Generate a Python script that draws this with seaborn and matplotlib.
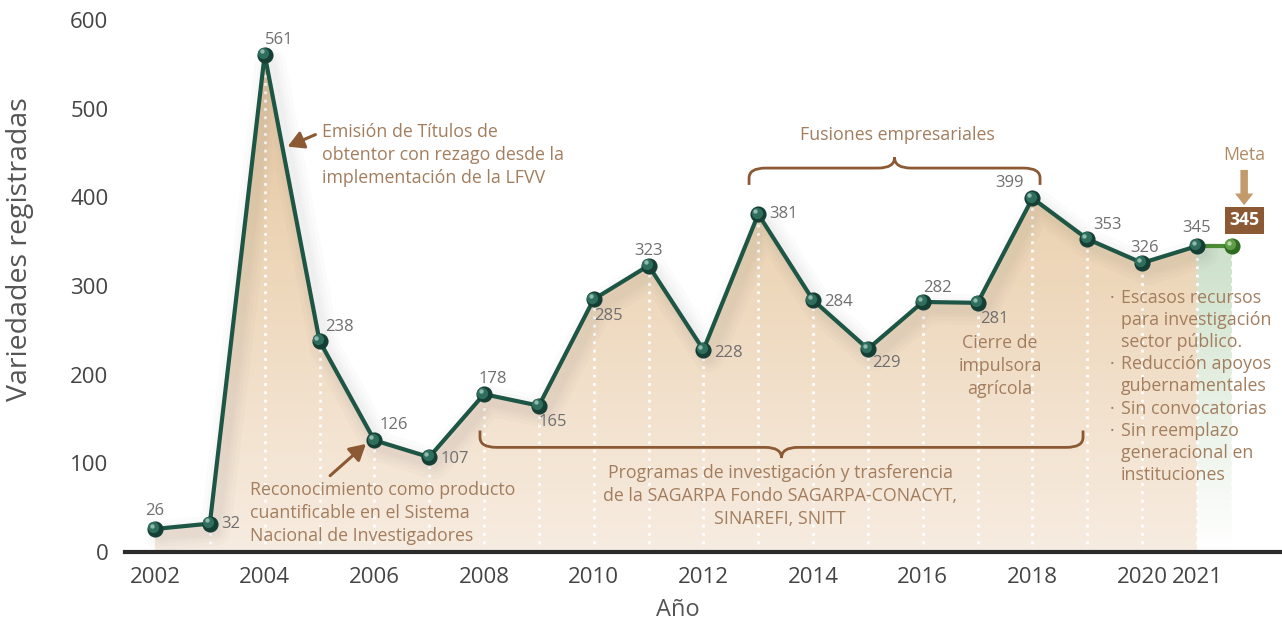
import numpy as np
import matplotlib
matplotlib.use("Agg")
import matplotlib.pyplot as plt
import matplotlib.transforms as mtransforms
from matplotlib.colors import LinearSegmentedColormap
from matplotlib.path import Path
from matplotlib.patches import PathPatch
import matplotlib.patheffects as pe
import seaborn as sns

# data
years = [2002, 2003, 2004, 2005, 2006, 2007, 2008, 2009, 2010, 2011,
         2012, 2013, 2014, 2015, 2016, 2017, 2018, 2019, 2020, 2021]
values = [26, 32, 561, 238, 126, 107, 178, 165, 285, 323,
          228, 381, 284, 229, 282, 281, 399, 353, 326, 345]
meta_year = 2021.64
meta_value = 345
xtick_years = [2002, 2004, 2006, 2008, 2010, 2012, 2014, 2016, 2018, 2020, 2021]
ytick_values = [0, 100, 200, 300, 400, 500, 600]

# label offsets in points (dx, dy, ha, va)
label_pos = [(0, 7, "center", "bottom"), (8, 0, "left", "center"), (0, 5, "left", "bottom"),
             (4, 4, "left", "bottom"), (4, 5, "left", "bottom"), (8, -1, "left", "center"),
             (-4, 5, "left", "bottom"), (0, -6, "left", "top"), (0, -6, "left", "top"),
             (0, 5, "center", "bottom"), (8, -2, "left", "center"), (8, 0, "left", "center"),
             (8, -1, "left", "center"), (3, -4, "left", "top"), (0, 4, "left", "bottom"),
             (2, -6, "left", "top"), (-6, 5, "right", "bottom"), (4, 4, "left", "bottom"),
             (2, 5, "center", "bottom"), (0, 7, "center", "bottom")]

sns.set_theme(style="white")
plt.rcParams['font.family'] = ['Open Sans', 'DejaVu Sans']

green = "#1e5646"
brown = "#8b5a35"
tan_txt = "#a27d5e"
grey_txt = "#6f6f6f"

fig = plt.figure(figsize=(12.82, 6.22), dpi=100)
ax = fig.add_axes([125 / 1282, 70 / 622, 1 - 125 / 1282, 532 / 622])
x_min, x_max = 2001.453, 2022.55

# gradient fill under the curve
grad = np.linspace(0, 1, 256).reshape(-1, 1)
cmap = LinearSegmentedColormap.from_list("tan", ["#f7ece1", "#eed8bc", "#e4c39b"])
im = ax.imshow(grad, extent=[x_min, x_max, 0, 600], origin="lower", aspect="auto",
               cmap=cmap, zorder=1)
poly = ax.fill_between(years, values, 0, color="none", lw=0)
im.set_clip_path(poly.get_paths()[0], transform=ax.transData)

# green goal area
gcmap = LinearSegmentedColormap.from_list("gr", ["#ffffff", "#e3eee0", "#c3dbc2", "#bcd7bc"])
im2 = ax.imshow(grad, extent=[x_min, x_max, 0, 600], origin="lower", aspect="auto",
                cmap=gcmap, zorder=1)
poly2 = ax.fill_between([years[-1], meta_year], [values[-1], meta_value], 0,
                        color="none", lw=0)
im2.set_clip_path(poly2.get_paths()[0], transform=ax.transData)

# dotted verticals
ax.vlines(years[1:] + [meta_year], 0, values[1:] + [meta_value], colors="white",
          linestyles=(0, (1, 2)), lw=2, zorder=2)

# main line with a soft shadow
shadow = [pe.SimpleLineShadow(offset=(4, -5), shadow_color="#555555", alpha=0.025,
                              linewidth=w) for w in (22, 16, 11, 7)]
sns.lineplot(x=years, y=values, color=green, lw=3, ax=ax, zorder=4,
             path_effects=shadow + [pe.Normal()])
sns.lineplot(x=[years[-1], meta_year], y=[values[-1], meta_value], color="#4a8c35",
             lw=3, ax=ax, zorder=3)

# sphere markers
hl1 = mtransforms.offset_copy(ax.transData, fig=fig, x=-1.2, y=1.2, units="points")
hl2 = mtransforms.offset_copy(ax.transData, fig=fig, x=-2.2, y=2.4, units="points")
ax.scatter(years, values, s=135, color="#153f34", zorder=5, lw=0)
ax.scatter(years, values, s=65, color="#2f6e5c", zorder=6, lw=0, transform=hl1)
ax.scatter(years, values, s=10, color="#8fb9ab", zorder=7, lw=0, transform=hl2)
ax.scatter([meta_year], [meta_value], s=135, color="#2f6b22", zorder=5, lw=0)
ax.scatter([meta_year], [meta_value], s=65, color="#5f9c47", zorder=6, lw=0, transform=hl1)
ax.scatter([meta_year], [meta_value], s=10, color="#b3d6a3", zorder=7, lw=0, transform=hl2)

# value labels
for x, v, (dx, dy, ha, va) in zip(years, values, label_pos):
    ax.annotate(str(v), (x, v), xytext=(dx, dy), textcoords="offset points",
                ha=ha, va=va, fontsize=12, color=grey_txt, zorder=8)

# axes styling
ax.set_xlim(x_min, x_max)
ax.set_ylim(0, 600)
ax.set_xticks(xtick_years)
ax.set_yticks(ytick_values)
ax.tick_params(axis="both", length=0, labelsize=16, labelcolor="#444444")
ax.tick_params(axis="y", pad=12)
ax.tick_params(axis="x", pad=11)
for s in ["left", "right", "top"]:
    ax.spines[s].set_visible(False)
ax.spines["bottom"].set_color("#2b2b2b")
ax.spines["bottom"].set_linewidth(3)
ax.spines["bottom"].set_zorder(9)
ax.set_xlabel("Año", fontsize=17, color="#555555", va="center")
ax.set_ylabel("Variedades registradas", fontsize=20.5, color="#555555", va="center")
ax.xaxis.set_label_coords(0.478, -0.109)
ax.yaxis.set_label_coords(-0.0908, 0.57)
ax.grid(False)
ax.set_facecolor("white")


def brace(x0, x1, y_end, y_line, y_tip, rx=0.3):
    xc = (x0 + x1) / 2
    ry = (y_line - y_end) * 0.6
    verts = [(x0, y_end), (x0, y_line - ry), (x0, y_line), (x0 + rx, y_line),
             (xc - rx, y_line), (xc, y_line), (xc, y_tip),
             (xc, y_line), (xc + rx, y_line), (x1 - rx, y_line),
             (x1, y_line), (x1, y_line - ry), (x1, y_end)]
    codes = [Path.MOVETO, Path.LINETO, Path.CURVE3, Path.CURVE3,
             Path.LINETO, Path.CURVE3, Path.CURVE3,
             Path.CURVE3, Path.CURVE3, Path.LINETO,
             Path.CURVE3, Path.CURVE3, Path.LINETO]
    ax.add_patch(PathPatch(Path(verts, codes), fc="none", ec=brown, lw=2, zorder=8,
                           clip_on=False))


brace(2007.926, 2018.922, 137, 118, 106)
brace(2012.832, 2018.138, 414, 433, 445)

ann = dict(fontsize=12.8, color=tan_txt, zorder=8, linespacing=1.36)
ax.text(2015.53, 470, "Fusiones empresariales", ha="center", va="center", **ann)
ax.text(2013.4, 99, "Programas de investigación y trasferencia\n"
        "de la SAGARPA Fondo SAGARPA-CONACYT,\nSINAREFI, SNITT",
        ha="center", va="top", **ann)
ax.text(2005.045, 484, "Emisión de Títulos de\nobtentor con rezago desde la\n"
        "implementación de la LFVV", ha="left", va="top", **ann)
ax.text(2003.732, 80, "Reconocimiento como producto\ncuantificable en el Sistema\n"
        "Nacional de Investigadores", ha="left", va="top", **ann)
ax.text(2017.41, 246, "Cierre de\nimpulsora\nagrícola", ha="center", va="top", **ann)

arrow = dict(arrowstyle="-|>,head_length=0.8,head_width=0.45", color=brown, lw=2.2)
ax.annotate("", xy=(2004.371, 456), xytext=(2004.972, 472), arrowprops=arrow, zorder=8)
ax.annotate("", xy=(2005.884, 124), xytext=(2005.155, 84), arrowprops=arrow, zorder=8)

bullets = ["Escasos recursos\npara investigación\nsector público.",
           "Reducción apoyos\ngubernamentales",
           "Sin convocatorias",
           "Sin reemplazo\ngeneracional en\ninstituciones"]
bullet_lines = "\n".join(bullets)
bullet_marks = "\n".join("·" + "\n" * b.count("\n") for b in bullets)
bl = dict(ann, linespacing=1.3)
ax.text(2019.414, 297, bullet_marks, ha="left", va="top", **bl)
ax.text(2019.615, 297, bullet_lines, ha="left", va="top", **bl)

ax.text(2021.86, 448, "Meta", ha="center", va="center", fontsize=12.8,
        color="#b28b64", zorder=8)
ax.annotate("", xy=(2021.86, 388), xytext=(2021.86, 434),
            arrowprops=dict(arrowstyle="simple,head_length=0.7,head_width=1.1,tail_width=0.45",
                            color="#c39a6b", lw=0), zorder=8)
ax.text(2021.86, 374, str(meta_value), ha="center", va="center", fontsize=12.8,
        fontweight="bold", color="white", zorder=8,
        bbox=dict(boxstyle="square,pad=0.25", fc=brown, ec="none"))

fig.savefig("out.png", dpi=100)
